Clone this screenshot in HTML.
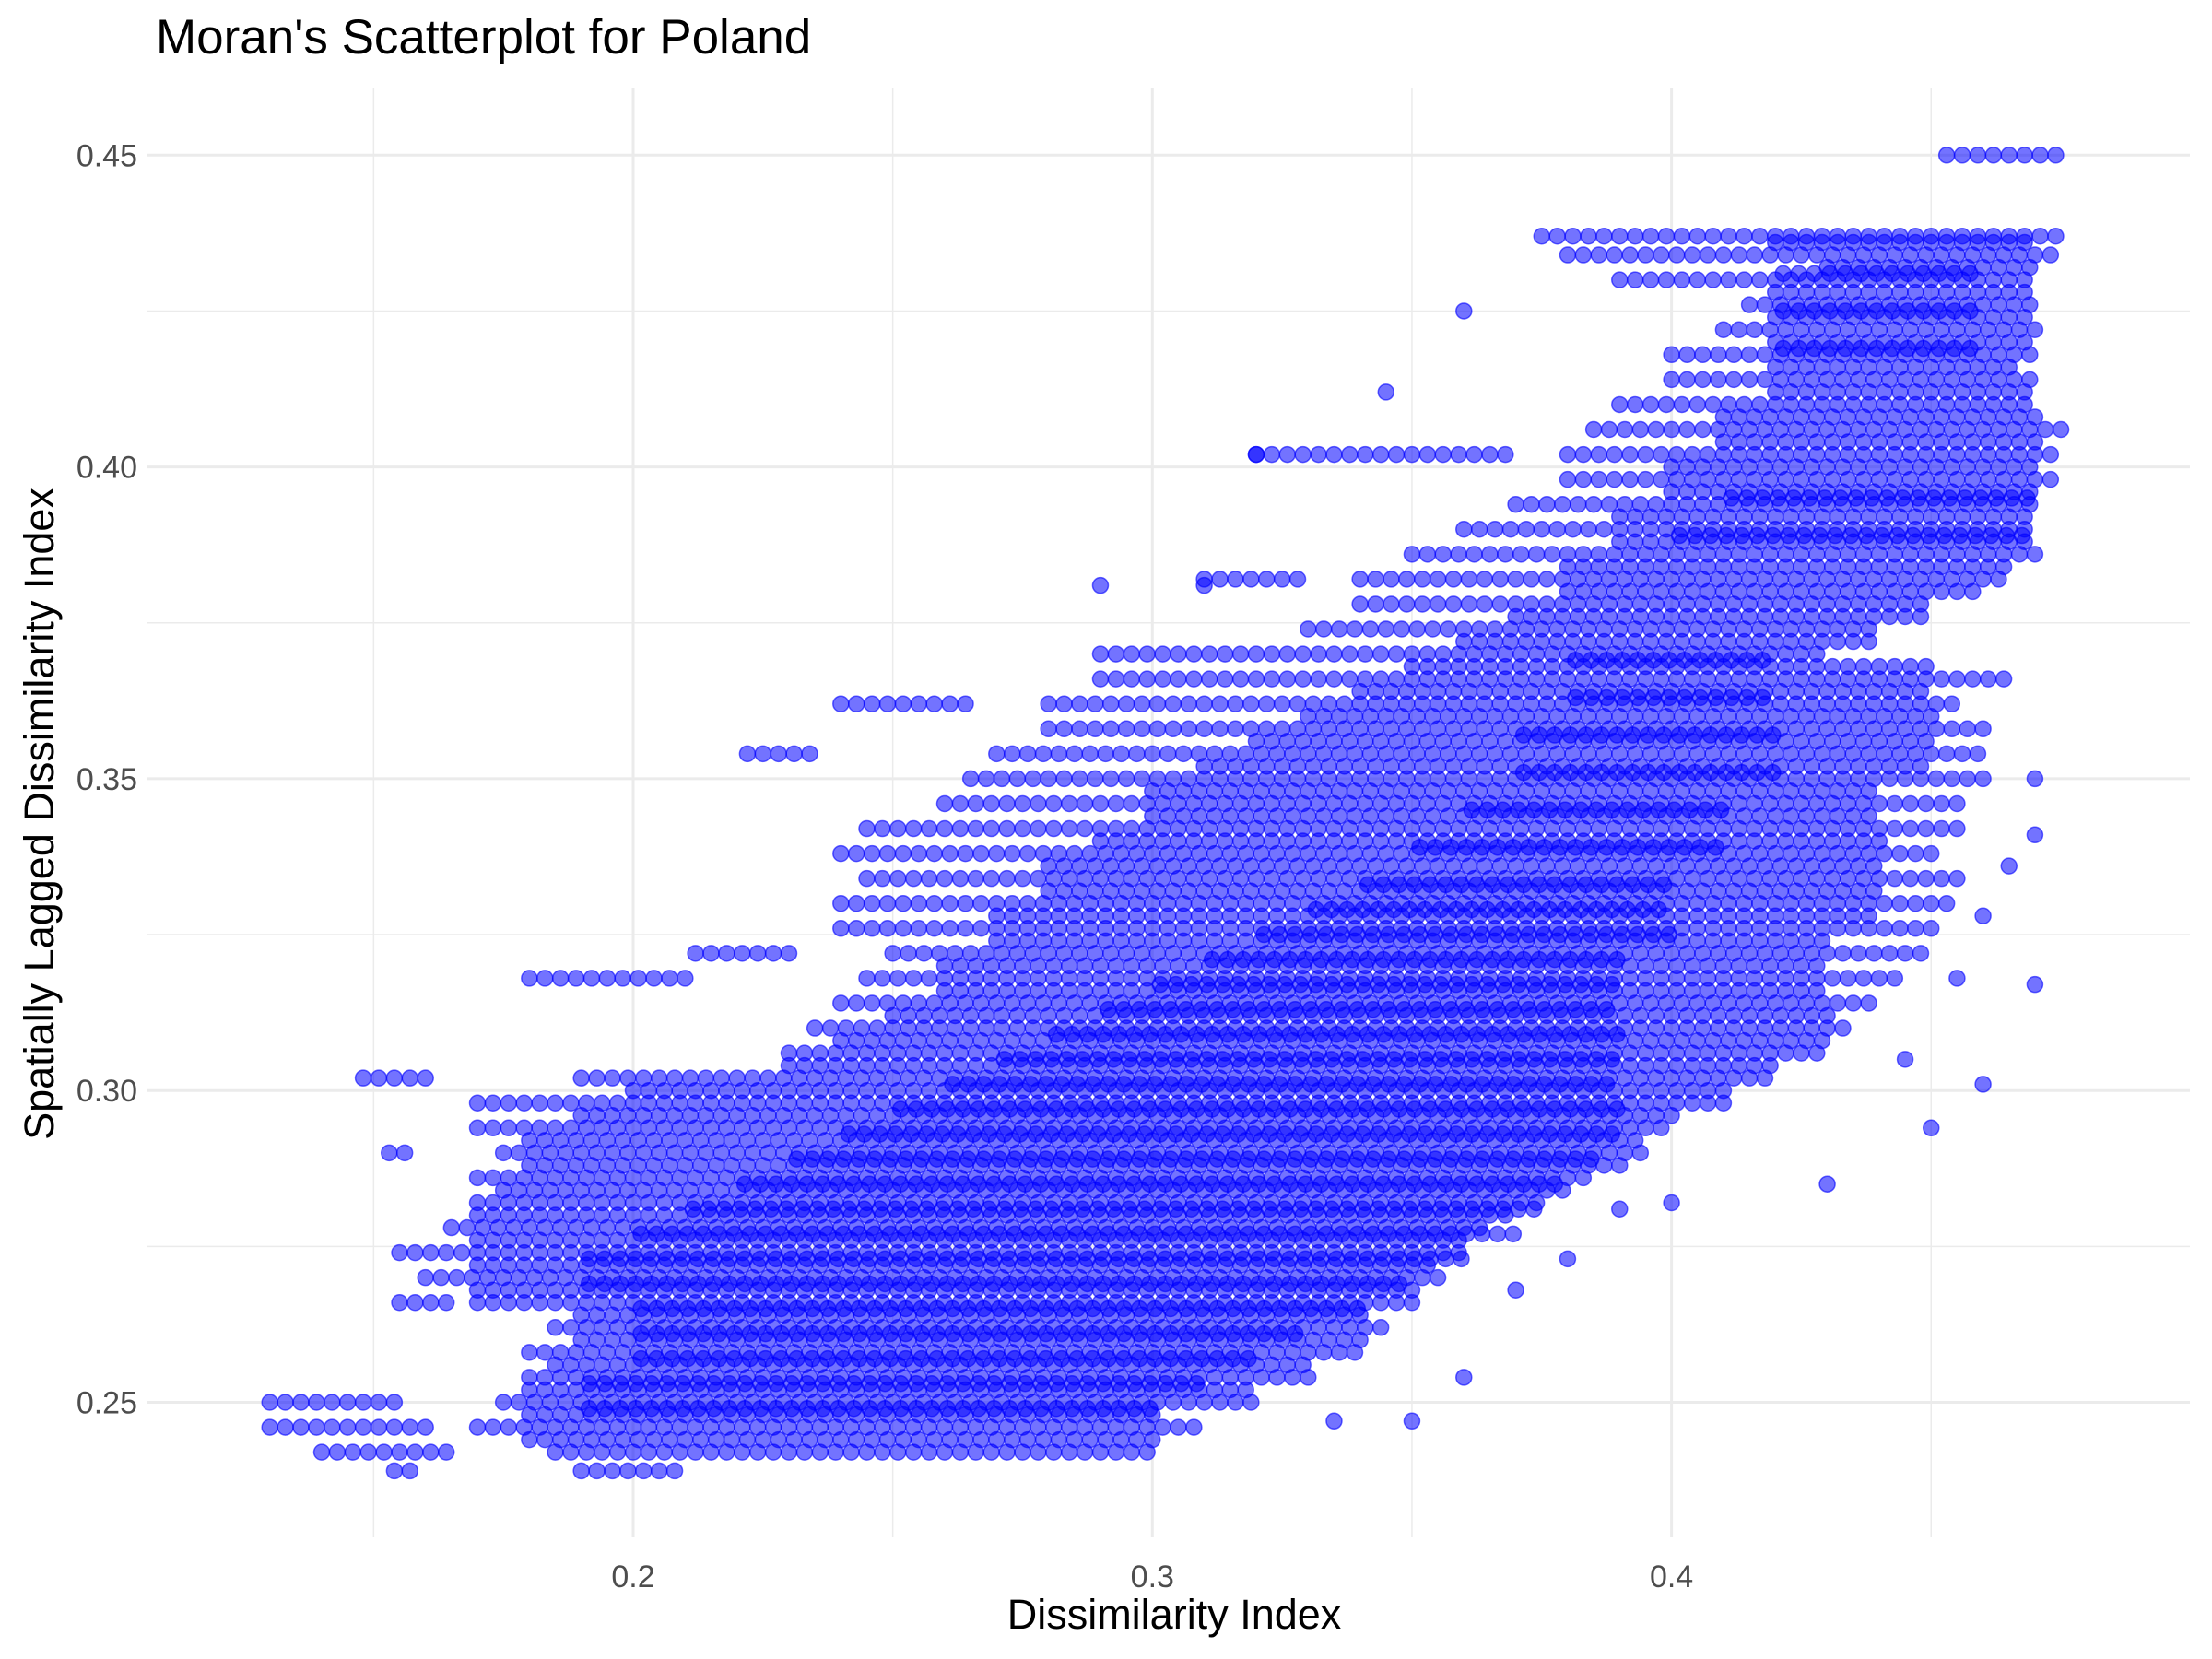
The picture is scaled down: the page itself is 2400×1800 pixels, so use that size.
<!DOCTYPE html>
<html><head><meta charset="utf-8"><style>
html,body{margin:0;padding:0;background:#fff;}
svg{display:block;font-family:"Liberation Sans",sans-serif;}
</style></head><body>
<svg id="chart" width="2400" height="1800" viewBox="0 0 2400 1800" xmlns="http://www.w3.org/2000/svg">
<rect width="2400" height="1800" fill="#fff"/>
<g id="grid"></g>
<g id="points"></g>
<g id="axes"></g>
<text x="169" y="58" font-size="53" fill="#000">Moran's Scatterplot for Poland</text>
<text x="1274" y="1767" font-size="45" text-anchor="middle" fill="#000">Dissimilarity Index</text>
<text transform="translate(58,883) rotate(-90)" font-size="45" text-anchor="middle" fill="#000">Spatially Lagged Dissimilarity Index</text>
</svg>
<script>
// Tick data
const xMajorTicks = [0.2, 0.3, 0.4];
const xMinorTicks = [0.15, 0.25, 0.35, 0.45];
const yMajorTicks = [0.25, 0.30, 0.35, 0.40, 0.45];
const yMinorTicks = [0.275, 0.325, 0.375, 0.425];
const xTickLabels = ["0.2", "0.3", "0.4"];
const yTickLabels = ["0.25", "0.30", "0.35", "0.40", "0.45"];
// Streaks of observations: lagged value (y) and x-extent
const streakY  = [0.239,0.239,0.242,0.242,0.246,0.246,0.250,0.250,0.254,0.258,0.262,0.266,0.266,0.270,0.274,0.278,0.282,0.286,0.290,0.290,0.294,0.298,0.302,0.302,0.306,0.310,0.314,0.318,0.318,0.322,0.322,0.326,0.330,0.334,0.338,0.342,0.346,0.350,0.354,0.354,0.358,0.362,0.362,0.366,0.370,0.374,0.378,0.382,0.382,0.386,0.390,0.394,0.398,0.402,0.402,0.406,0.410,0.414,0.418,0.422,0.426,0.430,0.434,0.437,0.450,
  0.244,0.248,0.252,0.256,0.260,0.264,0.268,0.272,0.276,0.280,0.284,0.288,0.292,0.296,0.300,0.304,0.308,0.312,0.316,0.320,0.324,0.328,0.332,0.336,0.340,0.344,0.348,0.352,0.356,0.360,0.364,0.368,0.372,0.376,0.380,0.384,0.388,0.392,0.396,0.400,0.404,0.408,0.412,0.416,0.420,0.424,0.428,0.432,0.436];
const streakX0 = [0.154,0.19,0.14,0.185,0.13,0.17,0.13,0.175,0.18,0.18,0.185,0.155,0.17,0.16,0.155,0.165,0.17,0.17,0.153,0.175,0.17,0.17,0.148,0.19,0.23,0.235,0.24,0.18,0.245,0.212,0.25,0.24,0.24,0.245,0.24,0.245,0.26,0.265,0.222,0.27,0.28,0.24,0.28,0.29,0.29,0.33,0.34,0.31,0.34,0.35,0.36,0.37,0.38,0.32,0.38,0.385,0.39,0.40,0.40,0.41,0.415,0.39,0.38,0.375,0.453,
  0.18,0.18,0.18,0.185,0.19,0.19,0.17,0.17,0.17,0.17,0.175,0.18,0.18,0.19,0.20,0.23,0.24,0.25,0.26,0.26,0.27,0.27,0.28,0.28,0.29,0.30,0.30,0.31,0.32,0.33,0.34,0.35,0.36,0.37,0.38,0.38,0.39,0.39,0.40,0.40,0.41,0.41,0.42,0.42,0.42,0.42,0.42,0.43,0.42];
const streakX1 = [0.158,0.21,0.165,0.30,0.16,0.31,0.155,0.32,0.33,0.34,0.345,0.165,0.35,0.355,0.36,0.365,0.375,0.385,0.158,0.395,0.40,0.41,0.16,0.42,0.43,0.435,0.44,0.21,0.445,0.23,0.45,0.45,0.455,0.455,0.45,0.455,0.455,0.46,0.236,0.46,0.46,0.265,0.455,0.465,0.43,0.44,0.45,0.33,0.465,0.47,0.47,0.47,0.475,0.37,0.475,0.475,0.47,0.47,0.47,0.47,0.47,0.47,0.475,0.475,0.475,
  0.30,0.30,0.32,0.33,0.34,0.34,0.35,0.355,0.36,0.37,0.38,0.39,0.395,0.40,0.41,0.42,0.43,0.43,0.43,0.43,0.43,0.44,0.44,0.44,0.44,0.44,0.44,0.45,0.45,0.45,0.45,0.45,0.44,0.45,0.46,0.465,0.47,0.47,0.47,0.47,0.47,0.47,0.47,0.465,0.47,0.47,0.47,0.47,0.47];
// Dense core streaks (heavily overlapping observations)
const coreY  = [0.249,0.253,0.257,0.261,0.265,0.269,0.273,0.277,0.281,0.285,0.289,0.293,0.297,0.301,0.305,0.309,0.313,0.317,0.321,0.325,0.329,0.333,0.339,0.345,0.351,0.357,0.363,0.369,0.389,0.395,0.419,0.425,0.431];
const coreX0 = [0.19,0.19,0.20,0.20,0.20,0.19,0.19,0.20,0.21,0.22,0.23,0.24,0.25,0.26,0.27,0.28,0.29,0.30,0.31,0.32,0.33,0.34,0.35,0.36,0.37,0.37,0.38,0.38,0.40,0.41,0.42,0.42,0.42];
const coreX1 = [0.30,0.31,0.32,0.33,0.34,0.35,0.36,0.37,0.375,0.38,0.385,0.39,0.39,0.39,0.39,0.39,0.39,0.39,0.39,0.40,0.40,0.40,0.41,0.41,0.42,0.42,0.42,0.42,0.47,0.47,0.46,0.46,0.46];
// Isolated observations
const outX = [0.470,0.470,0.465,0.470,0.460,0.450,0.430,0.400,0.390,0.310,0.320,0.345,0.360,0.460,0.445,0.455,0.380,0.370,0.360,0.350,0.290,0.335];
const outY = [0.350,0.341,0.336,0.317,0.301,0.294,0.285,0.282,0.281,0.381,0.402,0.412,0.425,0.328,0.305,0.318,0.273,0.268,0.254,0.247,0.381,0.247];

const NS = "http://www.w3.org/2000/svg";
const L = 160, R = 2376, T = 96, B = 1668;
function xs(v){ return 687 + (v - 0.2) * 5633; }
function ys(v){ return 1521.5 - (v - 0.25) * 6766; }

const grid = document.getElementById('grid');
function line(x1,y1,x2,y2,w,name){
  const l = document.createElementNS(NS,'line');
  l.setAttribute('x1',x1); l.setAttribute('y1',y1); l.setAttribute('x2',x2); l.setAttribute('y2',y2);
  l.setAttribute('stroke','#ebebeb'); l.setAttribute('stroke-width',w);
  
  
  grid.appendChild(l);
}
xMinorTicks.forEach(v => line(xs(v),T,xs(v),B,1.5,'x-minor-gridline'));
yMinorTicks.forEach(v => line(L,ys(v),R,ys(v),1.5,'y-minor-gridline'));
xMajorTicks.forEach(v => line(xs(v),T,xs(v),B,3,'x-major-gridline'));
yMajorTicks.forEach(v => line(L,ys(v),R,ys(v),3,'y-major-gridline'));

const axes = document.getElementById('axes');
xMajorTicks.forEach((v,i) => {
  const t = document.createElementNS(NS,'text');
  t.setAttribute('x', xs(v)); t.setAttribute('y', 1722);
  t.setAttribute('text-anchor','middle'); t.setAttribute('font-size','34'); t.setAttribute('fill','#4d4d4d');
  t.textContent = xTickLabels[i];
  
  
  axes.appendChild(t);
});
yMajorTicks.forEach((v,i) => {
  const t = document.createElementNS(NS,'text');
  t.setAttribute('x', 149); t.setAttribute('y', ys(v) + 12);
  t.setAttribute('text-anchor','end'); t.setAttribute('font-size','34'); t.setAttribute('fill','#4d4d4d');
  t.textContent = yTickLabels[i];
  
  
  axes.appendChild(t);
});

const pts = document.getElementById('points');
function dot(x,y){
  const c = document.createElementNS(NS,'circle');
  c.setAttribute('cx', xs(x)); c.setAttribute('cy', ys(y)); c.setAttribute('r', 8.5);
  c.setAttribute('fill','rgba(0,0,255,0.55)'); c.setAttribute('stroke','rgba(0,0,255,0.6)'); c.setAttribute('stroke-width','1.5');
  
  
  pts.appendChild(c);
}
for (let i = 0; i < streakY.length; i++) {
  for (let x = streakX0[i]; x <= streakX1[i] + 1e-9; x += 0.003) dot(x, streakY[i]);
}
for (let i = 0; i < coreY.length; i++) {
  for (let x = coreX0[i] + 0.0015; x <= coreX1[i] + 1e-9; x += 0.003) dot(x, coreY[i]);
}
for (let i = 0; i < outX.length; i++) dot(outX[i], outY[i]);
</script>
</body></html>
